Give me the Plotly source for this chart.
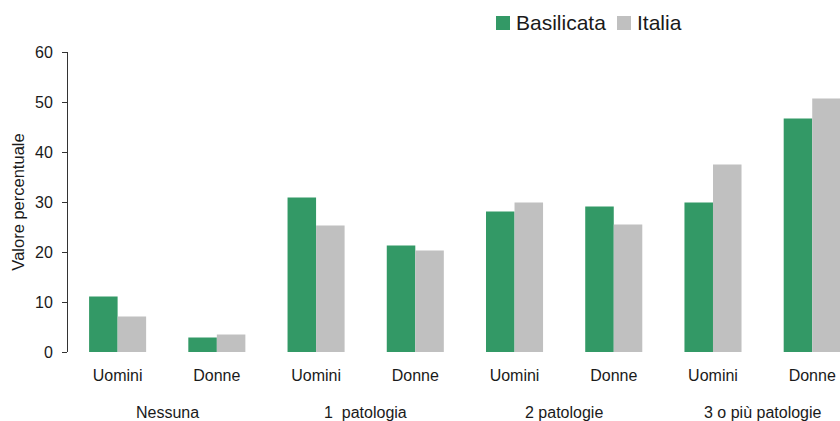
import plotly.graph_objects as go

# Data: share of people (%) by number of chronic conditions, by sex
groups = ["Nessuna", "1\u00a0 patologia", "2 patologie", "3 o più patologie"]
sexes = ["Uomini", "Donne"]
tick_labels = [s for _ in groups for s in sexes]
basilicata = [11.1, 2.9, 30.9, 21.3, 28.1, 29.1, 29.9, 46.7]
italia = [7.1, 3.5, 25.3, 20.3, 29.9, 25.5, 37.5, 50.7]

GREEN = "#339966"
GREY = "#C0C0C0"
TEXT = "#1a1a1a"
FONT = "Arial, Liberation Sans, sans-serif"

x = list(range(len(tick_labels)))

fig = go.Figure()
fig.add_bar(x=x, y=basilicata, name="Basilicata", marker_color=GREEN,
            marker_line_width=0, showlegend=False)
fig.add_bar(x=x, y=italia, name="Italia", marker_color=GREY,
            marker_line_width=0, showlegend=False)

fig.update_layout(
    width=840, height=421,
    margin=dict(l=68, r=0, t=52, b=69),
    paper_bgcolor="white", plot_bgcolor="white",
    barmode="group", bargap=0.425, bargroupgap=0,
    font=dict(family=FONT, size=16, color=TEXT),
)

fig.update_xaxes(
    range=[-0.5, 7.28], tickvals=x, ticktext=tick_labels,
    showline=False, showgrid=False, zeroline=False, ticks="",
    ticklabelstandoff=12,
    tickfont=dict(size=16, color=TEXT),
)
fig.update_yaxes(
    range=[0, 60], dtick=10, showgrid=False, zeroline=False,
    showline=True, linecolor="#333333", linewidth=1,
    ticks="outside", ticklen=5, tickcolor="#333333",
    ticklabelstandoff=6,
    tickfont=dict(size=16, color=TEXT),
    title=dict(text="Valore percentuale", font=dict(size=16.5, color=TEXT),
               standoff=6),
)

# Group labels under each pair of categories
for i, g in enumerate(groups):
    fig.add_annotation(x=2 * i + 0.5, xref="x", y=-0.203, yref="paper",
                       text=g, showarrow=False, yanchor="middle",
                       font=dict(size=16, color=TEXT))


def px_x(p):
    return (p - 68) / 772


def px_y(p):
    return (352 - p) / 300


# Legend at the top
legend_items = [("Basilicata", GREEN, 496), ("Italia", GREY, 617)]
for name, color, px0 in legend_items:
    fig.add_shape(type="rect", xref="paper", yref="paper",
                  x0=px_x(px0), x1=px_x(px0 + 14),
                  y0=px_y(30), y1=px_y(16),
                  fillcolor=color, line_width=0)
    fig.add_annotation(x=px_x(px0 + 18), xref="paper",
                       y=px_y(23), yref="paper",
                       text=name, showarrow=False, xanchor="left",
                       yanchor="middle", font=dict(size=21, color=TEXT))

fig.write_html("out.html")
